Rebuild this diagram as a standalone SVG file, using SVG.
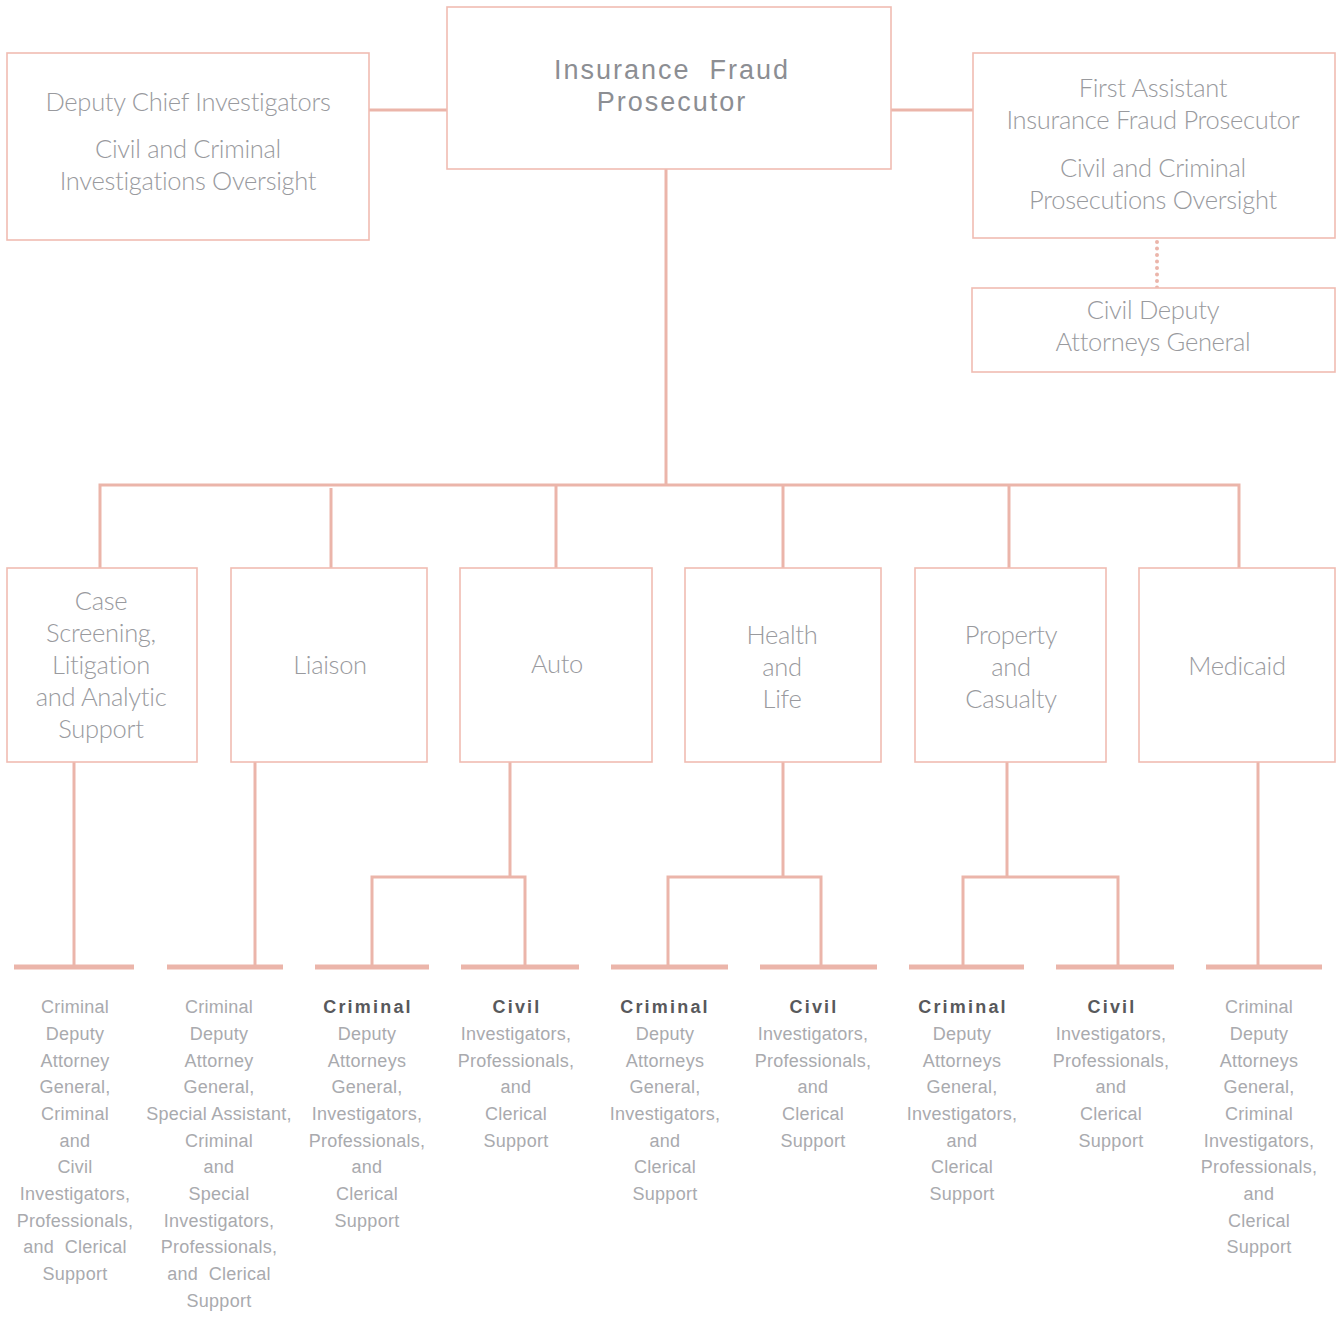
<svg xmlns="http://www.w3.org/2000/svg" width="1340" height="1320" viewBox="0 0 1340 1320">
<style>
.box{fill:#fff;stroke:#f0bcb2;stroke-width:1.6}
.ln{fill:none;stroke:#ebb5aa;stroke-width:3}
.bar{fill:none;stroke:#ebb5aa;stroke-width:5}
.dot{fill:none;stroke:#ebb5aa;stroke-width:4;stroke-linecap:round;stroke-dasharray:0 6.5}
.t{font-family:Lato,"Open Sans","Liberation Sans",sans-serif;font-weight:300;font-size:25.5px;fill:#999a9e;text-anchor:middle;letter-spacing:-0.3px}
.ttl{font-family:"Liberation Sans",Arial,sans-serif;font-size:27px;fill:#8c8e93;text-anchor:middle;letter-spacing:2px}
.s{font-family:"Liberation Sans",Arial,sans-serif;font-size:18px;fill:#a9aaae;text-anchor:middle;letter-spacing:0.25px}
.b{font-weight:bold;fill:#58595c;letter-spacing:2.2px}
</style>
<rect width="1340" height="1320" fill="#fff"/>
<g id="connectors">
<line class="ln" x1="369" y1="110" x2="447" y2="110"/>
<line class="ln" x1="891" y1="110" x2="973" y2="110"/>
<line class="dot" x1="1157" y1="242" x2="1157" y2="288"/>
<line class="ln" x1="666" y1="169" x2="666" y2="485"/>
<polyline class="ln" points="100,568 100,485 1239,485 1239,568"/>
<line class="ln" x1="331" y1="488" x2="331" y2="568"/>
<line class="ln" x1="556" y1="485" x2="556" y2="568"/>
<line class="ln" x1="783" y1="485" x2="783" y2="568"/>
<line class="ln" x1="1009" y1="485" x2="1009" y2="568"/>
<line class="ln" x1="74" y1="762" x2="74" y2="967"/>
<line class="ln" x1="255" y1="762" x2="255" y2="967"/>
<line class="ln" x1="510" y1="762" x2="510" y2="877"/>
<polyline class="ln" points="372,967 372,877 525,877 525,967"/>
<line class="ln" x1="783" y1="762" x2="783" y2="877"/>
<polyline class="ln" points="668,967 668,877 821,877 821,967"/>
<line class="ln" x1="1007" y1="762" x2="1007" y2="877"/>
<polyline class="ln" points="963,967 963,877 1118,877 1118,967"/>
<line class="ln" x1="1258" y1="762" x2="1258" y2="967"/>
<line class="bar" x1="14" y1="967" x2="134" y2="967"/>
<line class="bar" x1="167" y1="967" x2="283" y2="967"/>
<line class="bar" x1="315" y1="967" x2="429" y2="967"/>
<line class="bar" x1="461" y1="967" x2="579" y2="967"/>
<line class="bar" x1="611" y1="967" x2="728" y2="967"/>
<line class="bar" x1="760" y1="967" x2="877" y2="967"/>
<line class="bar" x1="909" y1="967" x2="1024" y2="967"/>
<line class="bar" x1="1056" y1="967" x2="1174" y2="967"/>
<line class="bar" x1="1206" y1="967" x2="1322" y2="967"/>
</g>
<g id="prosecutor">
<rect class="box" x="447" y="7" width="444" height="162"/>
<text class="ttl" x="672" y="79" xml:space="preserve">Insurance  Fraud</text>
<text class="ttl" x="672" y="111">Prosecutor</text>
</g>
<g id="deputy-chief">
<rect class="box" x="7" y="53" width="362" height="187"/>
<text class="t" x="188" y="111">Deputy Chief Investigators</text>
<text class="t" x="188" y="158">Civil and Criminal</text>
<text class="t" x="188" y="190">Investigations Oversight</text>
</g>
<g id="first-assistant">
<rect class="box" x="973" y="53" width="362" height="185"/>
<text class="t" x="1153" y="97">First Assistant</text>
<text class="t" x="1153" y="129">Insurance Fraud Prosecutor</text>
<text class="t" x="1153" y="177">Civil and Criminal</text>
<text class="t" x="1153" y="209">Prosecutions Oversight</text>
</g>
<g id="civil-deputy">
<rect class="box" x="972" y="288" width="363" height="84"/>
<text class="t" x="1153" y="319">Civil Deputy</text>
<text class="t" x="1153" y="351">Attorneys General</text>
</g>
<g id="case-screening">
<rect class="box" x="7" y="568" width="190" height="194"/>
<text class="t" x="101" y="610">Case</text>
<text class="t" x="101" y="642">Screening,</text>
<text class="t" x="101" y="674">Litigation</text>
<text class="t" x="101" y="706">and Analytic</text>
<text class="t" x="101" y="738">Support</text>
</g>
<g id="liaison">
<rect class="box" x="231" y="568" width="196" height="194"/>
<text class="t" x="330" y="674">Liaison</text>
</g>
<g id="auto">
<rect class="box" x="460" y="568" width="192" height="194"/>
<text class="t" x="557" y="673">Auto</text>
</g>
<g id="health-life">
<rect class="box" x="685" y="568" width="196" height="194"/>
<text class="t" x="782" y="644">Health</text>
<text class="t" x="782" y="676">and</text>
<text class="t" x="782" y="708">Life</text>
</g>
<g id="property-casualty">
<rect class="box" x="915" y="568" width="191" height="194"/>
<text class="t" x="1011" y="644">Property</text>
<text class="t" x="1011" y="676">and</text>
<text class="t" x="1011" y="708">Casualty</text>
</g>
<g id="medicaid">
<rect class="box" x="1139" y="568" width="196" height="194"/>
<text class="t" x="1237" y="675">Medicaid</text>
</g>
<g id="staff-case">
<text class="s" x="75" y="1013">Criminal</text>
<text class="s" x="75" y="1040">Deputy</text>
<text class="s" x="75" y="1067">Attorney</text>
<text class="s" x="75" y="1093">General,</text>
<text class="s" x="75" y="1120">Criminal</text>
<text class="s" x="75" y="1147">and</text>
<text class="s" x="75" y="1173">Civil</text>
<text class="s" x="75" y="1200">Investigators,</text>
<text class="s" x="75" y="1227">Professionals,</text>
<text class="s" x="75" y="1253" xml:space="preserve">and  Clerical</text>
<text class="s" x="75" y="1280">Support</text>
</g>
<g id="staff-liaison">
<text class="s" x="219" y="1013">Criminal</text>
<text class="s" x="219" y="1040">Deputy</text>
<text class="s" x="219" y="1067">Attorney</text>
<text class="s" x="219" y="1093">General,</text>
<text class="s" x="219" y="1120">Special Assistant,</text>
<text class="s" x="219" y="1147">Criminal</text>
<text class="s" x="219" y="1173">and</text>
<text class="s" x="219" y="1200">Special</text>
<text class="s" x="219" y="1227">Investigators,</text>
<text class="s" x="219" y="1253">Professionals,</text>
<text class="s" x="219" y="1280" xml:space="preserve">and  Clerical</text>
<text class="s" x="219" y="1307">Support</text>
</g>
<g id="staff-auto-criminal">
<text class="s b" x="368" y="1013">Criminal</text>
<text class="s" x="367" y="1040">Deputy</text>
<text class="s" x="367" y="1067">Attorneys</text>
<text class="s" x="367" y="1093">General,</text>
<text class="s" x="367" y="1120">Investigators,</text>
<text class="s" x="367" y="1147">Professionals,</text>
<text class="s" x="367" y="1173">and</text>
<text class="s" x="367" y="1200">Clerical</text>
<text class="s" x="367" y="1227">Support</text>
</g>
<g id="staff-auto-civil">
<text class="s b" x="517" y="1013">Civil</text>
<text class="s" x="516" y="1040">Investigators,</text>
<text class="s" x="516" y="1067">Professionals,</text>
<text class="s" x="516" y="1093">and</text>
<text class="s" x="516" y="1120">Clerical</text>
<text class="s" x="516" y="1147">Support</text>
</g>
<g id="staff-health-criminal">
<text class="s b" x="665" y="1013">Criminal</text>
<text class="s" x="665" y="1040">Deputy</text>
<text class="s" x="665" y="1067">Attorneys</text>
<text class="s" x="665" y="1093">General,</text>
<text class="s" x="665" y="1120">Investigators,</text>
<text class="s" x="665" y="1147">and</text>
<text class="s" x="665" y="1173">Clerical</text>
<text class="s" x="665" y="1200">Support</text>
</g>
<g id="staff-health-civil">
<text class="s b" x="814" y="1013">Civil</text>
<text class="s" x="813" y="1040">Investigators,</text>
<text class="s" x="813" y="1067">Professionals,</text>
<text class="s" x="813" y="1093">and</text>
<text class="s" x="813" y="1120">Clerical</text>
<text class="s" x="813" y="1147">Support</text>
</g>
<g id="staff-property-criminal">
<text class="s b" x="963" y="1013">Criminal</text>
<text class="s" x="962" y="1040">Deputy</text>
<text class="s" x="962" y="1067">Attorneys</text>
<text class="s" x="962" y="1093">General,</text>
<text class="s" x="962" y="1120">Investigators,</text>
<text class="s" x="962" y="1147">and</text>
<text class="s" x="962" y="1173">Clerical</text>
<text class="s" x="962" y="1200">Support</text>
</g>
<g id="staff-property-civil">
<text class="s b" x="1112" y="1013">Civil</text>
<text class="s" x="1111" y="1040">Investigators,</text>
<text class="s" x="1111" y="1067">Professionals,</text>
<text class="s" x="1111" y="1093">and</text>
<text class="s" x="1111" y="1120">Clerical</text>
<text class="s" x="1111" y="1147">Support</text>
</g>
<g id="staff-medicaid">
<text class="s" x="1259" y="1013">Criminal</text>
<text class="s" x="1259" y="1040">Deputy</text>
<text class="s" x="1259" y="1067">Attorneys</text>
<text class="s" x="1259" y="1093">General,</text>
<text class="s" x="1259" y="1120">Criminal</text>
<text class="s" x="1259" y="1147">Investigators,</text>
<text class="s" x="1259" y="1173">Professionals,</text>
<text class="s" x="1259" y="1200">and</text>
<text class="s" x="1259" y="1227">Clerical</text>
<text class="s" x="1259" y="1253">Support</text>
</g>
</svg>
